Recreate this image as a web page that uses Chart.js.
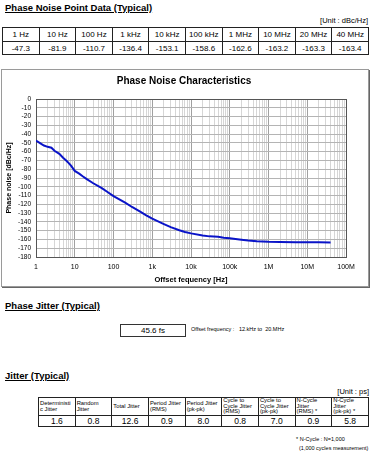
<!DOCTYPE html>
<html>
<head>
<meta charset="utf-8">
<script src="https://cdn.jsdelivr.net/npm/chart.js@4.4.1/dist/chart.umd.min.js"></script>
<style>
    body {
        margin: 0;
        width: 382px;
        height: 455px;
        position: relative;
        overflow: hidden;
        background: #fff;
        color: #000;
        font-family: "Liberation Sans", Arial, sans-serif;
    }
    .abs { position: absolute; line-height: 1; white-space: nowrap; }
    .sec { left: 5px; font-size: 9.5px; font-weight: bold; text-decoration: underline; }
    table { position: absolute; border-collapse: collapse; table-layout: fixed; }
    td { border: 1px solid #222; padding: 0; overflow: hidden; }
    #pn td { text-align: center; font-size: 8px; }
    #jit td.h { font-size: 5.8px; line-height: 0.98; vertical-align: middle; padding-left: 1px; white-space: nowrap; }
    #jit td.v { font-size: 8.5px; text-align: center; }
    #frame {
        position: absolute; left: 1px; top: 69px; width: 366px; height: 216px;
        border: 1px solid #9a9a9a; box-shadow: 1px 1px 0 #666;
    }
    #frame canvas { display: block; }
</style>
</head>
<body>

<div class="abs sec" style="top:3px">Phase Noise Point Data (Typical)</div>
<div class="abs" style="top:17px; right:14px; font-size:7.5px">[Unit : dBc/Hz]</div>
<table id="pn" style="left:2px; top:27px; width:367px">
    <tr id="pnHead" style="height:14px"></tr>
    <tr id="pnVals" style="height:13px"></tr>
</table>

<div id="frame"><canvas id="chart" width="366" height="216"></canvas></div>

<div class="abs sec" style="top:301px">Phase Jitter (Typical)</div>
<div class="abs" style="left:120px; top:324px; width:64px; height:11px; border:1px solid #333; font-size:8px; text-align:center; line-height:11px" id="pjVal"></div>
<div class="abs" style="left:191px; top:327px; font-size:5.5px" id="pjRange"></div>

<div class="abs sec" style="top:371px">Jitter (Typical)</div>
<div class="abs" style="top:388px; right:13px; font-size:7.5px">[Unit : ps]</div>
<table id="jit" style="left:38px; top:397px; width:331px">
    <tr id="jitHead" style="height:18px"></tr>
    <tr id="jitVals" style="height:10px"></tr>
</table>
<div class="abs" style="left:296px; top:437px; font-size:5.5px">* N-Cycle : N=1,000</div>
<div class="abs" style="left:299px; top:446px; font-size:5.5px">(1,000 cycles measurement)</div>

<script>
// point data table
const pointLabels = ['1 Hz', '10 Hz', '100 Hz', '1 kHz', '10 kHz', '100 kHz', '1 MHz', '10 MHz', '20 MHz', '40 MHz'];
const pointNoise = ['-47.3', '-81.9', '-110.7', '-136.4', '-153.1', '-158.6', '-162.6', '-163.2', '-163.3', '-163.4'];

const freqs = [1, 1.3, 1.6, 2, 2.5, 3, 4, 5, 6, 7, 8, 10, 13, 16, 20, 30, 50, 70,
    100, 200, 300, 500, 700, 1e3, 2e3, 3e3, 5e3, 7e3, 1e4, 2e4, 3e4, 5e4, 7e4,
    1e5, 2e5, 3e5, 5e5, 1e6, 2e6, 5e6, 1e7, 2e7, 4e7];
const noise = [-47.3, -50.5, -53, -54.5, -55.5, -59, -62.5, -67, -70, -73, -76, -81.9, -85, -88, -91, -96, -101.5, -106,
    -110.7, -118, -123, -128.5, -132.5, -136.4, -142.5, -146, -149.5, -151.5, -153.1, -155.5, -156.5, -157, -158,
    -158.6, -160.3, -161.2, -162, -162.6, -162.9, -163.1, -163.2, -163.3, -163.4];

const xTickLabels = ['1', '10', '100', '1k', '10k', '100k', '1M', '10M', '100M'];

// phase jitter
const phaseJitter = '45.6 fs';
const phaseJitterRange = 'Offset frequency :&nbsp;&nbsp;&nbsp;12.kHz to&nbsp;&nbsp;20.MHz';

// jitter table
const jitterHeaders = ['Deterministi\nc Jitter', 'Random\nJitter', 'Total Jitter', 'Period Jitter\n(RMS)',
    'Period Jitter\n(pk-pk)', 'Cycle to\nCycle Jitter\n(RMS)', 'Cycle to\nCycle Jitter\n(pk-pk)',
    'N-Cycle\nJitter\n(RMS) *', 'N-Cycle\nJitter\n(pk-pk) *'];
const jitterValues = ['1.6', '0.8', '12.6', '0.9', '8.0', '0.8', '7.0', '0.9', '5.8'];

const fillRow = (id, items, cls) => {
    document.getElementById(id).innerHTML = items
        .map(t => '<td' + (cls ? ' class="' + cls + '"' : '') + '>' + t.split('\n').join('<br>') + '</td>')
        .join('');
};
fillRow('pnHead', pointLabels);
fillRow('pnVals', pointNoise);
fillRow('jitHead', jitterHeaders, 'h');
fillRow('jitVals', jitterValues, 'v');
document.getElementById('pjVal').textContent = phaseJitter;
document.getElementById('pjRange').innerHTML = phaseJitterRange;

const xTicks = [];
for (let d = 0; d < 8; d++) {
    for (let m = 1; m < 10; m++) xTicks.push(m * Math.pow(10, d));
}
xTicks.push(1e8);

const isDecade = v => Math.abs(Math.log10(v) - Math.round(Math.log10(v))) < 1e-9;

const chartTitle = {
    id: 'chartTitle',
    afterDraw(chart) {
        const ctx = chart.ctx;
        ctx.save();
        ctx.font = 'bold 10px "Liberation Sans", Arial, sans-serif';
        ctx.fillStyle = '#000';
        ctx.textAlign = 'center';
        ctx.textBaseline = 'middle';
        ctx.fillText('Phase Noise Characteristics', 182, 11);
        ctx.restore();
    }
};

const config = {
    type: 'line',
    data: {
        datasets: [{
            data: freqs.map((f, i) => ({x: f, y: noise[i]})),
            borderColor: '#0a14c8',
            borderWidth: 2,
            pointRadius: 0,
            tension: 0,
            fill: false
        }]
    },
    options: {
        responsive: false,
        animation: false,
        devicePixelRatio: 1,
        layout: {
            padding: {left: 0, right: 22, top: 29, bottom: 0}
        },
        plugins: {
            legend: {display: false},
            tooltip: {enabled: false}
        },
        scales: {
            x: {
                type: 'logarithmic',
                min: 1,
                max: 1e8,
                afterBuildTicks: scale => {
                    scale.ticks = xTicks.map(v => ({value: v}));
                },
                afterFit: scale => {
                    scale.height = 29;
                },
                ticks: {
                    autoSkip: false,
                    maxRotation: 0,
                    padding: 6,
                    color: '#000',
                    font: {family: '"Liberation Sans", Arial, sans-serif', size: 7},
                    callback: v => isDecade(v) ? xTickLabels[Math.round(Math.log10(v))] : ''
                },
                grid: {
                    drawTicks: false,
                    color: ctx => {
                        const v = ctx.tick ? ctx.tick.value : 0;
                        if (v >= 1e8) return '#555';
                        return isDecade(v) ? '#a0a0a0' : '#d6d6d6';
                    }
                },
                border: {color: '#555', width: 1},
                title: {
                    display: true,
                    text: 'Offset fequency [Hz]',
                    color: '#000',
                    font: {family: '"Liberation Sans", Arial, sans-serif', size: 7.5, weight: 'bold'},
                    padding: {top: 0, bottom: 2}
                }
            },
            y: {
                min: -180,
                max: 0,
                afterFit: scale => {
                    scale.width = 34;
                },
                ticks: {
                    stepSize: 10,
                    autoSkip: false,
                    padding: 5,
                    color: '#000',
                    font: {family: '"Liberation Sans", Arial, sans-serif', size: 6.5}
                },
                grid: {
                    drawTicks: false,
                    color: ctx => (ctx.tick && ctx.tick.value === 0) ? '#555' : '#b4b4b4'
                },
                border: {color: '#555', width: 1},
                title: {
                    display: true,
                    text: 'Phase noise [dBc/Hz]',
                    color: '#000',
                    font: {family: '"Liberation Sans", Arial, sans-serif', size: 7, weight: 'bold'},
                    padding: {top: 3, bottom: 0}
                }
            }
        }
    },
    plugins: [chartTitle]
};

window.onload = () => {
    const ctx = document.getElementById('chart').getContext('2d');
    window.noiseChart = new Chart(ctx, config);
};
</script>
</body>
</html>
